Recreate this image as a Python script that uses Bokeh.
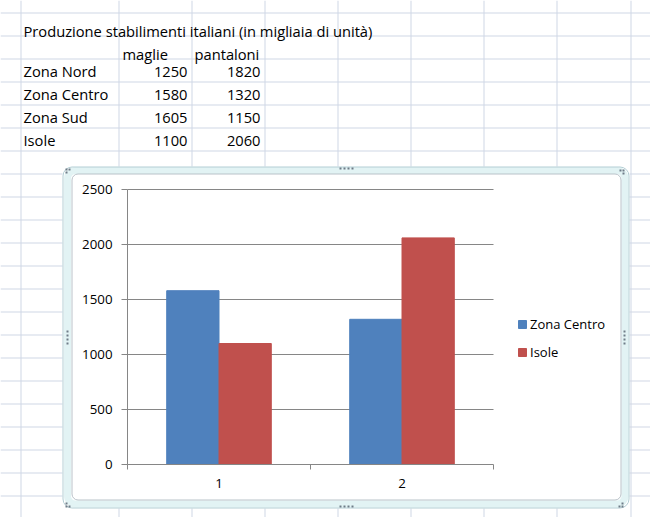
from bokeh.plotting import figure
from bokeh.models import (Range1d, LinearAxis, FixedTicker, BoxAnnotation, Label, LabelSet,
                          ColumnDataSource, Legend, LegendItem)
from bokeh.core.properties import value
from bokeh.transform import dodge
from bokeh.embed import file_html
from bokeh.resources import INLINE

# ---------------- data ----------------
table_title = "Produzione stabilimenti italiani (in migliaia di unità)"
products = ["maglie", "pantaloni"]
zones = ["Zona Nord", "Zona Centro", "Zona Sud", "Isole"]
maglie = [1250, 1580, 1605, 1100]
pantaloni = [1820, 1320, 1150, 2060]

categories = ["1", "2"]
series_names = ["Zona Centro", "Isole"]
zona_centro = [1580, 1320]
isole = [1100, 2060]
y_ticks = [0, 500, 1000, 1500, 2000, 2500]

# ---------------- layout constants (page pixels) ----------------
W, H = 650, 517
PL, PR, PT, PB = 127, 493, 189, 464       # chart plot area
FONT = "Open Sans"
TABLE_FS = "14.7px"
CHART_FS = "13.3px"
GRID = "#d0d7e5"
AX = "#868686"
BLUE, RED = "#4F81BD", "#C0504D"

n = len(categories)
ymax = y_ticks[-1]
xs = n / (PR - PL)          # data units per pixel
ys = ymax / (PB - PT)

p = figure(width=W, height=H, output_backend="svg", toolbar_location=None,
           x_range=Range1d(-PL * xs, n + (W - PR) * xs),
           y_range=Range1d(-(H - PB) * ys, ymax + PT * ys),
           x_axis_type=None, y_axis_type=None, min_border=0)
p.title.visible = False
p.outline_line_color = None
p.background_fill_color = "white"
p.border_fill_color = "white"

# page-pixel ranges for spreadsheet decorations
p.extra_x_ranges = {"cx": Range1d(0, W)}
p.extra_y_ranges = {"cy": Range1d(H, 0)}


def box(l, t, r, b, **kw):
    kw.setdefault("fill_alpha", 0)
    kw.setdefault("line_alpha", 0)
    p.add_layout(BoxAnnotation(left=l, right=r, top=t, bottom=b,
                               x_range_name="cx", y_range_name="cy", **kw))


# ---------------- spreadsheet grid ----------------
CH_L, CH_T, CH_R, CH_B = 62, 166, 629, 508
col_lines = [20, 118, 191, 264, 337, 410, 483, 556, 630]
row_lines = [12 + 23 * k for k in range(23)]
for x in col_lines:
    if CH_L <= x <= CH_R:
        box(x, 0, x + 1, CH_T, fill_color=GRID, fill_alpha=1)
        box(x, CH_B, x + 1, H, fill_color=GRID, fill_alpha=1)
    else:
        box(x, 0, x + 1, H, fill_color=GRID, fill_alpha=1)
for y in row_lines:
    if CH_T <= y <= CH_B:
        box(0, y, CH_L, y + 1, fill_color=GRID, fill_alpha=1)
        box(CH_R, y, W, y + 1, fill_color=GRID, fill_alpha=1)
    else:
        box(0, y, W, y + 1, fill_color=GRID, fill_alpha=1)

# ---------------- table text ----------------
TXT = dict(x_range_name="cx", y_range_name="cy", text_font=FONT, text_font_size=TABLE_FS,
           text_color="#000000", text_baseline="alphabetic")
p.add_layout(Label(x=23, y=30, text=table_title, text_align="left", **TXT))
p.add_layout(Label(x=122, y=53, text=products[0], text_align="left", **TXT))
p.add_layout(Label(x=194, y=53, text=products[1], text_align="left", **TXT))
rows_y = [76 + 23 * i for i in range(len(zones))]
tsrc = ColumnDataSource(dict(y=rows_y, zone=zones,
                             m=[str(v) for v in maglie], pt=[str(v) for v in pantaloni]))
TXS = dict(TXT, text_font=value(FONT), text_font_size=value(TABLE_FS))
p.add_layout(LabelSet(x=23, y="y", text="zone", source=tsrc, text_align="left", **TXS))
p.add_layout(LabelSet(x=187, y="y", text="m", source=tsrc, text_align="right", **TXS))
p.add_layout(LabelSet(x=260, y="y", text="pt", source=tsrc, text_align="right", **TXS))

# ---------------- chart frame ----------------
box(67, 170, 624.5, 503.5, line_color="#e2f3f4", line_alpha=1, line_width=7, border_radius=8)
box(62.5, 166.5, 628.5, 507.5, line_color="#b3ced4", line_alpha=1, line_width=1, border_radius=9)
box(71.5, 173.5, 620.5, 499.5, line_color="#b9c2c9", line_alpha=1, line_width=1, border_radius=6)
DOT = dict(fill_color="#6f7c88", fill_alpha=1)
for dx in [339, 343, 347, 351]:
    box(dx, 167, dx + 2, 169, **DOT)
    box(dx, 505, dx + 2, 507, **DOT)
for dy in [330, 334, 338, 342]:
    box(66, dy, 68, dy + 2, **DOT)
    box(623, dy, 625, dy + 2, **DOT)
for (dx, dy) in [(65, 168), (68, 168), (65, 171), (619, 169), (622, 169), (622, 172),
                 (65, 502), (65, 505), (68, 505), (618, 505), (621, 505), (621, 502)]:
    box(dx, dy, dx + 2, dy + 2, **DOT)

# ---------------- chart gridlines + bars ----------------
p.segment(x0=0, x1=n, y0=y_ticks[1:], y1=y_ticks[1:], line_color=AX, line_width=1)
bw = 1 / 3.5
src = ColumnDataSource(dict(x=[i + 0.5 for i in range(n)], centro=zona_centro, isole=isole))
r1 = p.vbar(x=dodge("x", -bw / 2), top="centro", width=bw, source=src,
            fill_color=BLUE, line_color=BLUE)
r2 = p.vbar(x=dodge("x", bw / 2), top="isole", width=bw, source=src,
            fill_color=RED, line_color=RED)

# ---------------- axes ----------------
yaxis = LinearAxis(ticker=FixedTicker(ticks=y_ticks, minor_ticks=[]),
                   fixed_location=0, bounds=(0, ymax))
yaxis.axis_line_color = AX
yaxis.major_tick_line_color = AX
yaxis.major_tick_out = 6
yaxis.major_tick_in = 0
yaxis.minor_tick_line_color = None
yaxis.major_label_standoff = 9
yaxis.major_label_text_font = FONT
yaxis.major_label_text_font_size = CHART_FS
yaxis.major_label_text_color = "#000000"
p.add_layout(yaxis, "left")

xaxis = LinearAxis(ticker=FixedTicker(ticks=[i + 0.5 for i in range(n)],
                                      minor_ticks=list(range(n + 1))),
                   fixed_location=0, bounds=(0, n))
xaxis.major_label_overrides = {i + 0.5: c for i, c in enumerate(categories)}
xaxis.axis_line_color = AX
xaxis.major_tick_line_color = None
xaxis.major_tick_out = 0
xaxis.major_tick_in = 0
xaxis.minor_tick_line_color = AX
xaxis.minor_tick_out = 5
xaxis.minor_tick_in = 0
xaxis.major_label_standoff = 9
xaxis.major_label_text_font = FONT
xaxis.major_label_text_font_size = CHART_FS
xaxis.major_label_text_color = "#000000"
p.add_layout(xaxis, "below")

# ---------------- legend ----------------
legend = Legend(items=[LegendItem(label=series_names[0], renderers=[r1]),
                       LegendItem(label=series_names[1], renderers=[r2])],
                location=(517, 156), orientation="vertical",
                glyph_width=10, glyph_height=10, label_height=18, label_standoff=3,
                spacing=10, padding=0, margin=0,
                border_line_color=None, background_fill_alpha=0,
                label_text_font=FONT, label_text_font_size="13px", label_text_color="#000000")
p.add_layout(legend, "center")

open("out.html", "w").write(file_html(p, INLINE))
